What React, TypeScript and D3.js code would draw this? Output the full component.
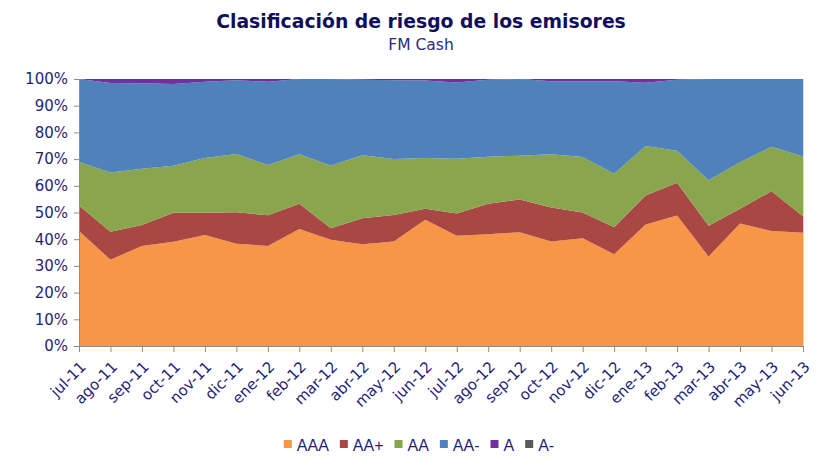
import { useEffect, useRef } from "react";
import * as d3 from "d3";

const months = [
  "jul-11", "ago-11", "sep-11", "oct-11", "nov-11", "dic-11", "ene-12", "feb-12",
  "mar-12", "abr-12", "may-12", "jun-12", "jul-12", "ago-12", "sep-12", "oct-12",
  "nov-12", "dic-12", "ene-13", "feb-13", "mar-13", "abr-13", "may-13", "jun-13",
];

const ratings = ["AAA", "AA+", "AA", "AA-", "A", "A-"];

// share of the portfolio per rating, in %
const aaa = [43.1, 32.3, 37.5, 39.0, 41.6, 38.3, 37.5, 43.8, 39.8, 38.1, 39.1, 47.3, 41.3, 41.9, 42.6, 39.1, 40.4, 34.4, 45.5, 48.9, 33.5, 45.9, 43.1, 42.4];
const aaPlus = [9.5, 10.5, 7.8, 10.9, 8.3, 11.8, 11.5, 9.5, 4.3, 9.7, 10.0, 4.1, 8.3, 11.4, 12.3, 12.8, 9.6, 10.1, 10.9, 12.2, 11.5, 5.5, 14.9, 6.2];
const aa = [16.3, 22.2, 21.1, 17.6, 20.5, 21.8, 18.8, 18.5, 23.4, 23.6, 20.9, 19.0, 20.5, 17.6, 16.4, 19.9, 20.8, 20.0, 18.5, 12.0, 17.1, 17.4, 16.6, 22.4];
const aaMinus = [31.1, 33.5, 32.0, 30.6, 28.6, 27.6, 31.2, 28.2, 32.5, 28.3, 29.5, 29.0, 28.6, 28.8, 28.7, 27.4, 28.4, 34.7, 23.7, 26.6, 37.9, 31.2, 25.4, 29.0];
const aSingle = [0.0, 1.5, 1.6, 1.9, 1.0, 0.5, 1.0, 0.0, 0.0, 0.3, 0.5, 0.6, 1.3, 0.3, 0.0, 0.8, 0.8, 0.8, 1.4, 0.3, 0.0, 0.0, 0.0, 0.0];
const aMinus = [0, 0, 0, 0, 0, 0, 0, 0, 0, 0, 0, 0, 0, 0, 0, 0, 0, 0, 0, 0, 0, 0, 0, 0];

const colors = ["#F79646", "#A94745", "#89A54E", "#4F81BD", "#7030A0", "#595959"];

const W = 838;
const H = 472;
const margin = { top: 79, right: 35, bottom: 126, left: 79 };
const innerW = W - margin.left - margin.right;
const innerH = H - margin.top - margin.bottom;

const textColor = "#1F1F78";
const axisFont = "'DejaVu Sans', Verdana, sans-serif";

export default function App() {
  const gRef = useRef<SVGGElement>(null);

  useEffect(() => {
    const g = d3.select(gRef.current);
    g.selectAll("*").remove();

    const values = [aaa, aaPlus, aa, aaMinus, aSingle, aMinus];
    const rows = months.map((m, i) => {
      const row: any = { month: m };
      ratings.forEach((r, k) => (row[r] = values[k][i]));
      return row;
    });

    const series = d3.stack().keys(ratings).offset(d3.stackOffsetExpand)(rows);

    const x = d3.scalePoint().domain(months).range([0, innerW]);
    const y = d3.scaleLinear().domain([0, 1]).range([innerH, 0]);

    const area = d3.area<any>()
      .x(d => x(d.data.month)!)
      .y0(d => y(d[0]))
      .y1(d => y(d[1]));

    g.append("g")
      .selectAll("path")
      .data(series)
      .join("path")
      .attr("fill", (_d, i) => colors[i])
      .attr("d", area);

    // faint right edge
    g.append("line")
      .attr("x1", innerW + 0.5).attr("x2", innerW + 0.5)
      .attr("y1", 0).attr("y2", innerH)
      .attr("stroke", "#d4dcea");

    const yAxis = g.append("g")
      .call(d3.axisLeft(y).ticks(10).tickFormat(d3.format(".0%")).tickSize(5).tickPadding(6));
    yAxis.select(".domain").attr("stroke", "#8c8c8c");
    yAxis.selectAll(".tick line").attr("stroke", "#8c8c8c");
    yAxis.selectAll(".tick text")
      .attr("fill", textColor)
      .style("font-family", axisFont)
      .style("font-size", "15px");

    const xAxis = g.append("g")
      .attr("transform", `translate(0,${innerH})`)
      .call(d3.axisBottom(x).tickSize(6).tickSizeOuter(0).tickFormat(() => ""));
    xAxis.select(".domain").attr("stroke", "#8c8c8c");
    xAxis.selectAll(".tick line").attr("stroke", "#8c8c8c");

    g.append("g")
      .selectAll("text")
      .data(months)
      .join("text")
      .attr("transform", d => `translate(${x(d)! + 4},${innerH + 18}) rotate(-45)`)
      .attr("text-anchor", "end")
      .attr("dy", "0.35em")
      .attr("fill", textColor)
      .style("font-family", axisFont)
      .style("font-size", "15px")
      .text(d => d);

    // legend, laid out from measured text widths
    const legend = g.append("g").attr("transform", `translate(0,${H - margin.top - 27})`);
    const items = legend.selectAll("g").data(ratings).join("g");
    items.append("rect")
      .attr("width", 8).attr("height", 8)
      .attr("y", -5)
      .attr("fill", (_d, i) => colors[i]);
    items.append("text")
      .attr("x", 13)
      .attr("dy", "0.35em")
      .attr("fill", textColor)
      .style("font-family", "'Liberation Sans', Arial, sans-serif")
      .style("font-size", "16px")
      .text(d => d);
    let offset = 0;
    const positions: number[] = [];
    items.each(function () {
      positions.push(offset);
      const t = (this as SVGGElement).querySelector("text") as SVGTextElement;
      offset += 13 + t.getComputedTextLength() + 11;
    });
    const total = offset - 11;
    const start = (W - total) / 2 - margin.left;
    items.attr("transform", (_d, i) => `translate(${start + positions[i]},0)`);
  }, []);

  return (
    <svg width={W} height={H} style={{ display: "block", margin: "-8px" }}>
      <rect width={W} height={H} fill="#ffffff" />
      <text x={421} y={28} textAnchor="middle" fill="#0F0F5E"
        style={{ fontFamily: axisFont, fontWeight: "bold", fontSize: "18.8px" }}>
        Clasificación de riesgo de los emisores
      </text>
      <text x={421} y={50} textAnchor="middle" fill="#2B2B80"
        style={{ fontFamily: axisFont, fontSize: "15.5px" }}>
        FM Cash
      </text>
      <g ref={gRef} transform={`translate(${margin.left},${margin.top})`} />
    </svg>
  );
}
